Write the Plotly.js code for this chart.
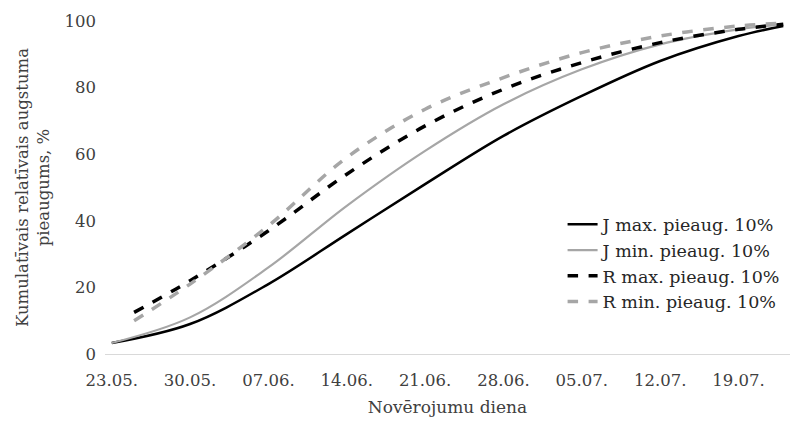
<!DOCTYPE html>
<html>
<head>
<meta charset="utf-8">
<script src="https://cdn.plot.ly/plotly-3.0.1.min.js"></script>
<style>html,body{margin:0;padding:0;background:#fff;}#chart{width:804px;height:425px;}</style>
</head>
<body>
<div id="chart"></div>
<script>
// day index since 23.05.
const daysJ = [0, 7, 14, 21, 28, 35, 42, 49, 56, 60];
const daysR = [2, 7, 14, 21, 28, 35, 42, 49, 56, 60];
const jMax = [3.3, 9.0, 21, 36, 51, 65.5, 77.5, 88, 95.5, 98.5];
const jMin = [3.3, 11, 26, 44.5, 61, 75, 85.5, 93, 97.5, 99];
const rMax = [12.5, 22, 37, 54, 68.5, 79.5, 87.5, 93.5, 97.5, 99];
const rMin = [10, 21, 38.5, 59, 73.5, 83, 90.5, 95.5, 98.5, 99.3];
const tickDays = [0, 7, 14, 21, 28, 35, 42, 49, 56];
const tickLabels = ["23.05.", "30.05.", "07.06.", "14.06.", "21.06.", "28.06.", "05.07.", "12.07.", "19.07."];
const names = ["J max. pieaug. 10%", "J min. pieaug. 10%", "R max. pieaug. 10%", "R min. pieaug. 10%"];

const traces = [
  {x: daysJ, y: jMax, name: names[0], mode: 'lines', line: {color: '#000000', width: 2.5, shape: 'spline'}},
  {x: daysJ, y: jMin, name: names[1], mode: 'lines', line: {color: '#a6a6a6', width: 2.2, shape: 'spline'}},
  {x: daysR, y: rMax, name: names[2], mode: 'lines', line: {color: '#000000', width: 3.5, dash: 'dash', shape: 'spline'}},
  {x: daysR, y: rMin, name: names[3], mode: 'lines', line: {color: '#a6a6a6', width: 3.5, dash: 'dash', shape: 'spline'}}
];

const serif = 'DejaVu Serif';
const layout = {
  width: 804, height: 425,
  margin: {l: 105, r: 14, t: 21, b: 71},
  paper_bgcolor: '#ffffff', plot_bgcolor: '#ffffff',
  font: {family: serif, size: 16, color: '#404040'},
  showlegend: true,
  legend: {x: 0.668, y: 0.443, xanchor: 'left', yanchor: 'top', bgcolor: 'rgba(255,255,255,0)',
           font: {family: serif, size: 17.5, color: '#262626'}, tracegroupgap: 0, itemwidth: 30},
  xaxis: {
    range: [-0.6, 60.6], tickmode: 'array', tickvals: tickDays, ticktext: tickLabels,
    showgrid: false, zeroline: false, showline: true, linecolor: '#d9d9d9', linewidth: 1,
    ticks: '', ticklabelstandoff: 11, tickfont: {family: serif, size: 16.5, color: '#404040'},
    title: {text: 'Novērojumu diena', font: {family: serif, size: 17, color: '#404040'}, standoff: 12}
  },
  yaxis: {
    range: [0, 100], tickvals: [0, 20, 40, 60, 80, 100], showgrid: false, zeroline: false,
    showline: false, ticks: '', ticklabelstandoff: 8, tickfont: {family: serif, size: 16.5, color: '#404040'},
    title: {text: 'Kumulatīvais relatīvais augstuma<br>pieaugums, %', font: {family: serif, size: 16.5, color: '#404040'}, standoff: 10}
  }
};
Plotly.newPlot('chart', traces, layout, {displayModeBar: false, staticPlot: true});
</script>
</body>
</html>
